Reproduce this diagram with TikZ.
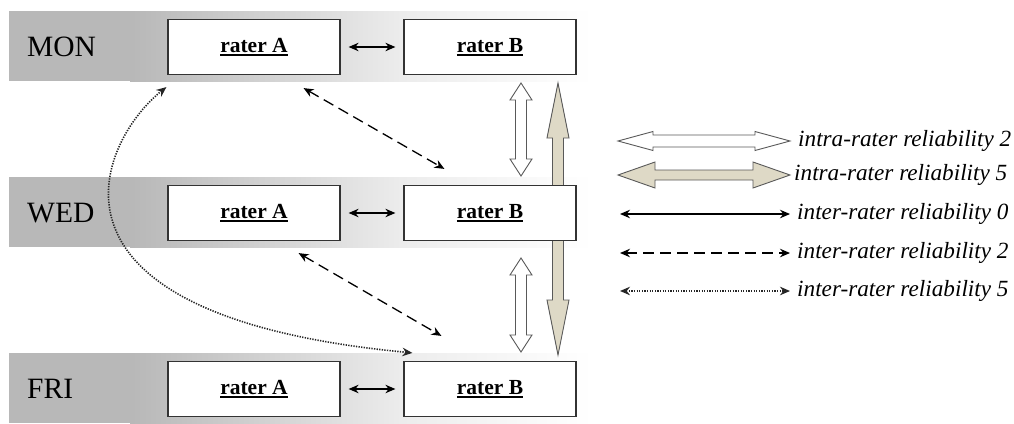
\documentclass[tikz,border=0pt]{standalone}
\usepackage{fontspec}
\setmainfont{Liberation Serif}
\usetikzlibrary{arrows.meta}

\definecolor{bandL}{gray}{0.72}
\definecolor{bandM}{gray}{0.925}
\definecolor{beige}{RGB}{222,217,198}
\definecolor{edge}{gray}{0.2}
\definecolor{blockedge}{gray}{0.35}

% bold label with a heavy underline
\newcommand\thickul[1]{\setbox0\hbox{#1}\rlap{\rule[-4pt]{\wd0}{2.2pt}}\box0}

% vertical double block arrow: style, x, y top, y bottom, shaft half, head half, head length
\newcommand\vblock[7]{%
  \draw[#1] (#2,#3) -- (#2+#6,#3+#7) -- (#2+#5,#3+#7) -- (#2+#5,#4-#7)
    -- (#2+#6,#4-#7) -- (#2,#4) -- (#2-#6,#4-#7) -- (#2-#5,#4-#7)
    -- (#2-#5,#3+#7) -- (#2-#6,#3+#7) -- cycle;}
% horizontal double block arrow: style, x left, x right, y, shaft half, head half, head length
\newcommand\hblock[7]{%
  \draw[#1] (#2,#4) -- (#2+#7,#4-#6) -- (#2+#7,#4-#5) -- (#3-#7,#4-#5)
    -- (#3-#7,#4-#6) -- (#3,#4) -- (#3-#7,#4+#6) -- (#3-#7,#4+#5)
    -- (#2+#7,#4+#5) -- (#2+#7,#4+#6) -- cycle;}

% shaded day band behind a row, centred on y
\newcommand\dayband[1]{%
  \fill[bandL] (9,#1-36) rectangle (130.5,#1+34);
  \shade[left color=bandL, right color=bandM] (130,#1-36) rectangle (400.5,#1+34);
  \shade[left color=bandM, right color=white] (400,#1-36) rectangle (592,#1+34);}

\begin{document}
\begin{tikzpicture}[x=1pt,y=-1pt,
  rater/.style={draw=edge, line width=1.2pt, fill=white, minimum width=172pt,
    minimum height=55pt, inner sep=0pt, font=\fontsize{21.5}{24}\selectfont\bfseries},
  day/.style={anchor=west, inner sep=0pt, font=\fontsize{29.5}{32}\selectfont},
  lbl/.style={anchor=west, inner sep=0pt, font=\fontsize{23.2}{26}\selectfont\itshape},
  tips/.style={{Stealth[length=10pt,width=8.5pt]}-{Stealth[length=10pt,width=8.5pt]}},
  link/.style={tips, line width=1.3pt, draw=black},
  dashlink/.style={link, dash pattern=on 11pt off 6pt},
  dotlink/.style={link, line width=1.6pt, draw=black!85, dash pattern=on 1.3pt off 1.3pt},
  whiteblock/.style={draw=blockedge, line width=0.9pt, fill=white},
  beigeblock/.style={draw=blockedge, line width=0.9pt, fill=beige},
]
\useasboundingbox (0,0) rectangle (1014,423);

% day bands
\dayband{47}
\dayband{213}
\dayband{389}

% long intra-rater arrow runs behind the Wednesday box
\vblock{beigeblock}{558}{83}{355}{5.5}{11}{55}

% rows of raters
\node[day] (mon) at (27,47) {MON};
\node[day] (wed) at (27,213) {WED};
\node[day] (fri) at (27,389) {FRI};

\node[rater] (monA) at (254,47) {\thickul{rater A}};
\node[rater] (monB) at (490,47) {\thickul{rater B}};
\node[rater] (wedA) at (254,213) {\thickul{rater A}};
\node[rater] (wedB) at (490,213) {\thickul{rater B}};
\node[rater] (friA) at (254,389) {\thickul{rater A}};
\node[rater] (friB) at (490,389) {\thickul{rater B}};

% same-day inter-rater links
\draw[link, shorten <=8pt, shorten >=8pt] (monA) -- (monB);
\draw[link, shorten <=8pt, shorten >=8pt] (wedA) -- (wedB);
\draw[link, shorten <=8pt, shorten >=8pt] (friA) -- (friB);

% short intra-rater arrows for rater B
\vblock{whiteblock}{521}{83}{176}{5.5}{11}{17}
\vblock{whiteblock}{521}{258}{352}{5.5}{11}{17}

% cross-day inter-rater links
\coordinate (d1s) at ([shift={(-37,13)}]monA.south east);
\coordinate (d1e) at ([shift={(41,-16)}]wedB.north west);
\coordinate (d2s) at ([shift={(-42,12)}]wedA.south east);
\coordinate (d2e) at ([shift={(38,-25)}]friB.north west);
\draw[dashlink] (d1s) -- (d1e);
\draw[dashlink] (d2s) -- (d2e);

\coordinate (c1s) at ([shift={(-1,12)}]monA.south west);
\coordinate (c1e) at ([shift={(9,-8)}]friB.north west);
\draw[dotlink] (c1e) .. controls (15,315) and (100,140) .. (c1s);

% legend
\hblock{whiteblock}{618}{790}{141}{6}{9.5}{35}
\hblock{beigeblock}{618}{790}{175}{5}{13}{37}
\coordinate (l0a) at (620,214); \coordinate (l0b) at (790,214);
\coordinate (l2a) at (620,253); \coordinate (l2b) at (790,253);
\coordinate (l5a) at (620,291); \coordinate (l5b) at (790,291);
\draw[link] (l0a) -- (l0b);
\draw[dashlink] (l2a) -- (l2b);
\draw[dotlink] (l5a) -- (l5b);

\node[lbl] (t1) at (798,141) {intra-rater reliability 2};
\node[lbl] (t2) at (794,175) {intra-rater reliability 5};
\node[lbl] (t3) at (797,214) {inter-rater reliability 0};
\node[lbl] (t4) at (797,253) {inter-rater reliability 2};
\node[lbl] (t5) at (797,291) {inter-rater reliability 5};
\end{tikzpicture}
\end{document}
